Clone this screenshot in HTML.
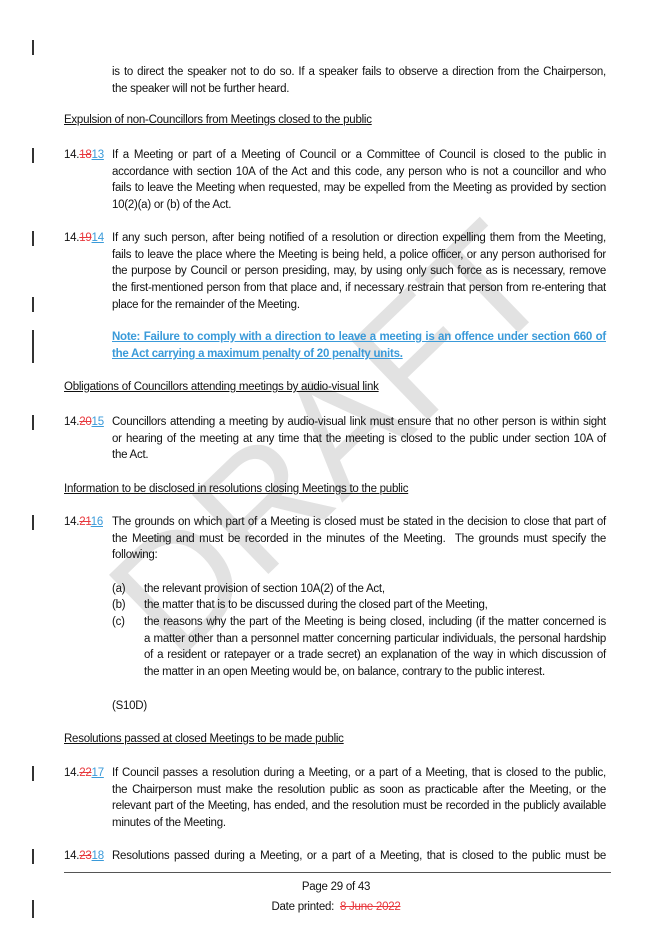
<!DOCTYPE html>
<html><head><meta charset="utf-8"><style>
html,body{margin:0;padding:0;background:#fff;}
body{width:666px;height:942px;position:relative;overflow:hidden;font-family:"Liberation Sans",Arial,sans-serif;font-size:11.5px;letter-spacing:-0.25px;color:#111;}
.p{position:absolute;line-height:16.66px;}
.p div{white-space:nowrap;}
.j{text-align:justify;text-align-last:justify;}
.num{position:absolute;line-height:16.66px;white-space:nowrap;}
.del{color:#e8383d;text-decoration:line-through;}
.ins{color:#3a9ad9;text-decoration:underline;}
.h{position:absolute;left:64px;line-height:16.66px;text-decoration:underline;white-space:nowrap;}
.bar{position:absolute;left:32px;width:1.5px;background:#333;}
.note{color:#3a9ad9;font-weight:bold;text-decoration:underline;}
.wm{position:absolute;left:0;top:0;}
</style></head><body>
<svg class="wm" width="666" height="942"><text x="0" y="0" transform="translate(338,448) rotate(-44)" text-anchor="middle" dominant-baseline="middle" font-family="Liberation Sans, sans-serif" font-size="160" fill="#e2e2e2">DRAFT</text></svg>

<div class="bar" style="top:40px;height:15px"></div>
<div class="bar" style="top:148px;height:15px"></div>
<div class="bar" style="top:231px;height:15px"></div>
<div class="bar" style="top:297px;height:15px"></div>
<div class="bar" style="top:330px;height:33px"></div>
<div class="bar" style="top:415px;height:15px"></div>
<div class="bar" style="top:515px;height:15px"></div>
<div class="bar" style="top:766px;height:15px"></div>
<div class="bar" style="top:849px;height:15px"></div>
<div class="bar" style="top:900px;height:18px"></div>

<div class="p" style="left:112px;top:64px;width:494px">
<div class="j">is to direct the speaker not to do so. If a speaker fails to observe a direction from the Chairperson,</div>
<div>the speaker will not be further heard.</div></div>

<div class="h" style="top:112px">Expulsion of non-Councillors from Meetings closed to the public</div>

<div class="num" style="left:64px;top:147px">14.<span class="del">18</span><span class="ins">13</span></div>
<div class="p" style="left:112px;top:147px;width:494px">
<div class="j">If a Meeting or part of a Meeting of Council or a Committee of Council is closed to the public in</div>
<div class="j">accordance with section 10A of the Act and this code, any person who is not a councillor and who</div>
<div class="j">fails to leave the Meeting when requested, may be expelled from the Meeting as provided by section</div>
<div>10(2)(a) or (b) of the Act.</div></div>

<div class="num" style="left:64px;top:230px">14.<span class="del">19</span><span class="ins">14</span></div>
<div class="p" style="left:112px;top:230px;width:494px">
<div class="j">If any such person, after being notified of a resolution or direction expelling them from the Meeting,</div>
<div class="j">fails to leave the place where the Meeting is being held, a police officer, or any person authorised for</div>
<div class="j">the purpose by Council or person presiding, may, by using only such force as is necessary, remove</div>
<div class="j">the first-mentioned person from that place and, if necessary restrain that person from re-entering that</div>
<div>place for the remainder of the Meeting.</div></div>

<div class="p note" style="left:112px;top:329px;width:494px">
<div class="j">Note: Failure to comply with a direction to leave a meeting is an offence under section 660 of</div>
<div>the Act carrying a maximum penalty of 20 penalty units.</div></div>

<div class="h" style="top:379px">Obligations of Councillors attending meetings by audio-visual link</div>

<div class="num" style="left:64px;top:414px">14.<span class="del">20</span><span class="ins">15</span></div>
<div class="p" style="left:112px;top:414px;width:494px">
<div class="j">Councillors attending a meeting by audio-visual link must ensure that no other person is within sight</div>
<div class="j">or hearing of the meeting at any time that the meeting is closed to the public under section 10A of</div>
<div>the Act.</div></div>

<div class="h" style="top:481px">Information to be disclosed in resolutions closing Meetings to the public</div>

<div class="num" style="left:64px;top:514px">14.<span class="del">21</span><span class="ins">16</span></div>
<div class="p" style="left:112px;top:514px;width:494px">
<div class="j">The grounds on which part of a Meeting is closed must be stated in the decision to close that part of</div>
<div class="j">the Meeting and must be recorded in the minutes of the Meeting.&nbsp; The grounds must specify the</div>
<div>following:</div></div>

<div class="num" style="left:112px;top:581px">(a)</div>
<div class="p" style="left:144px;top:581px;width:462px"><div>the relevant provision of section 10A(2) of the Act,</div></div>
<div class="num" style="left:112px;top:597px">(b)</div>
<div class="p" style="left:144px;top:597px;width:462px"><div>the matter that is to be discussed during the closed part of the Meeting,</div></div>
<div class="num" style="left:112px;top:614px">(c)</div>
<div class="p" style="left:144px;top:614px;width:462px">
<div class="j">the reasons why the part of the Meeting is being closed, including (if the matter concerned is</div>
<div class="j">a matter other than a personnel matter concerning particular individuals, the personal hardship</div>
<div class="j">of a resident or ratepayer or a trade secret) an explanation of the way in which discussion of</div>
<div>the matter in an open Meeting would be, on balance, contrary to the public interest.</div></div>

<div class="num" style="left:112px;top:698px">(S10D)</div>

<div class="h" style="top:731px">Resolutions passed at closed Meetings to be made public</div>

<div class="num" style="left:64px;top:765px">14.<span class="del">22</span><span class="ins">17</span></div>
<div class="p" style="left:112px;top:765px;width:494px">
<div class="j">If Council passes a resolution during a Meeting, or a part of a Meeting, that is closed to the public,</div>
<div class="j">the Chairperson must make the resolution public as soon as practicable after the Meeting, or the</div>
<div class="j">relevant part of the Meeting, has ended, and the resolution must be recorded in the publicly available</div>
<div>minutes of the Meeting.</div></div>

<div class="num" style="left:64px;top:848px">14.<span class="del">23</span><span class="ins">18</span></div>
<div class="p" style="left:112px;top:848px;width:494px">
<div class="j">Resolutions passed during a Meeting, or a part of a Meeting, that is closed to the public must be</div></div>

<div style="position:absolute;left:64px;top:872px;width:547px;height:1px;background:#555"></div>
<div style="position:absolute;left:0;width:666px;top:879px;text-align:center;line-height:16px;padding-left:6px;box-sizing:border-box">Page 29 of 43</div>
<div style="position:absolute;left:0;width:666px;top:899px;text-align:center;line-height:16px;padding-left:6px;box-sizing:border-box">Date printed:&nbsp; <span class="del">8 June 2022</span></div>
</body></html>
